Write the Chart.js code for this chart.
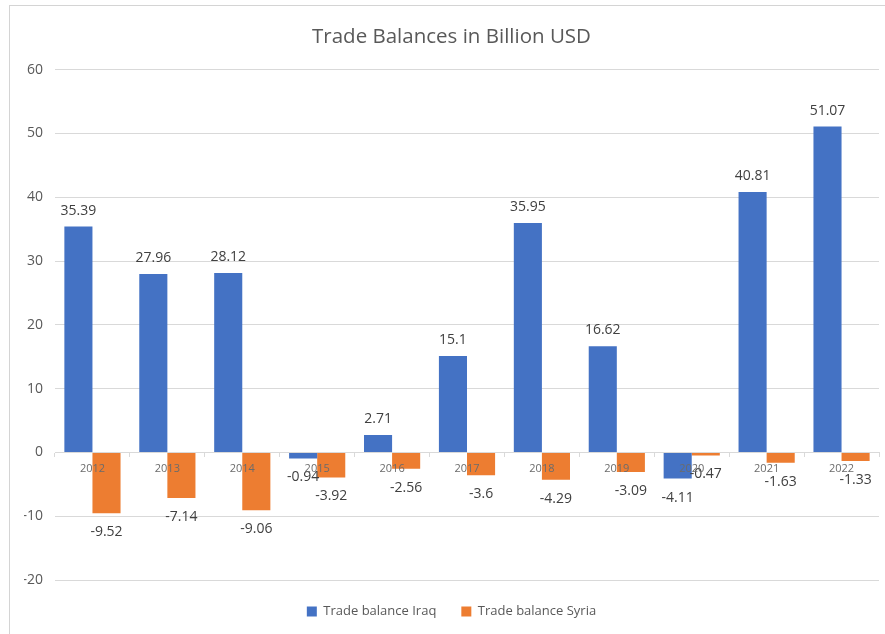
<!DOCTYPE html>
<html>
<head>
<meta charset="utf-8">
<script src="https://cdn.jsdelivr.net/npm/chart.js@4"></script>
<style>
  html, body { margin: 0; padding: 0; background: #fff; }
  #wrap { position: relative; width: 885px; height: 634px; }
  #frame { position: absolute; left: 9px; top: 5px; right: -2px; bottom: -2px;
           border-left: 1px solid #d4d4d4; border-top: 1px solid #d4d4d4; pointer-events: none; }
</style>
</head>
<body>
<div id="wrap">
  <canvas id="trade-chart" width="885" height="634"></canvas>
  <div id="frame"></div>
</div>
<script>
const years = ['2012', '2013', '2014', '2015', '2016', '2017', '2018', '2019', '2020', '2021', '2022'];
const iraqBalance = [35.39, 27.96, 28.12, -0.94, 2.71, 15.1, 35.95, 16.62, -4.11, 40.81, 51.07];
const syriaBalance = [-9.52, -7.14, -9.06, -3.92, -2.56, -3.6, -4.29, -3.09, -0.47, -1.63, -1.33];

const FONT = "'Open Sans', sans-serif";
const TEXT_COLOR = '#595959';

// Draws the value next to the end of each bar
const valueLabels = {
  id: 'valueLabels',
  afterDatasetsDraw(chart) {
    const ctx = chart.ctx;
    ctx.save();
    ctx.font = '14px ' + FONT;
    ctx.fillStyle = '#404040';
    ctx.textAlign = 'center';
    ctx.textBaseline = 'middle';
    chart.data.datasets.forEach((ds, i) => {
      const meta = chart.getDatasetMeta(i);
      meta.data.forEach((bar, j) => {
        const v = ds.data[j];
        const y = v >= 0 ? bar.y - 16 : bar.y + 19;
        ctx.fillText(String(v), bar.x, y);
      });
    });
    ctx.restore();
  }
};

const ctx = document.getElementById('trade-chart').getContext('2d');
const tradeChart = new Chart(ctx, {
  type: 'bar',
  data: {
    labels: years,
    datasets: [
      {
        label: 'Trade balance Iraq',
        data: iraqBalance,
        backgroundColor: '#4472C4',
        categoryPercentage: 0.75,
        barPercentage: 1.0,
      },
      {
        label: 'Trade balance Syria',
        data: syriaBalance,
        backgroundColor: '#ED7D31',
        categoryPercentage: 0.75,
        barPercentage: 1.0,
      },
    ],
  },
  options: {
    responsive: false,
    animation: false,
    layout: {
      padding: { left: 24, right: 6, top: 0, bottom: 6 },
    },
    plugins: {
      title: {
        display: true,
        text: 'Trade Balances in Billion USD',
        color: TEXT_COLOR,
        font: { family: FONT, size: 20.5, weight: 'normal' },
        padding: { top: 25, bottom: 20 },
      },
      legend: {
        position: 'bottom',
        labels: {
          color: TEXT_COLOR,
          font: { family: FONT, size: 13 },
          boxWidth: 10,
          boxHeight: 10,
          padding: 25,
        },
      },
      tooltip: { enabled: false },
    },
    scales: {
      x: {
        position: { y: 0 },
        grid: {
          display: true,
          drawOnChartArea: false,
          drawTicks: true,
          tickLength: 4,
          color: '#d9d9d9',
        },
        border: { display: true, color: '#d9d9d9', z: 1 },
        ticks: {
          color: '#6b6b6b',
          font: { family: FONT, size: 11 },
          padding: 6,
          z: 1,
        },
      },
      y: {
        min: -20,
        max: 60,
        afterFit: (s) => { s.width = 31; },
        grid: { color: '#d9d9d9', drawTicks: false },
        border: { display: false },
        ticks: {
          stepSize: 10,
          color: TEXT_COLOR,
          font: { family: FONT, size: 14 },
          padding: 12,
        },
      },
    },
  },
  plugins: [valueLabels],
});
</script>
</body>
</html>
